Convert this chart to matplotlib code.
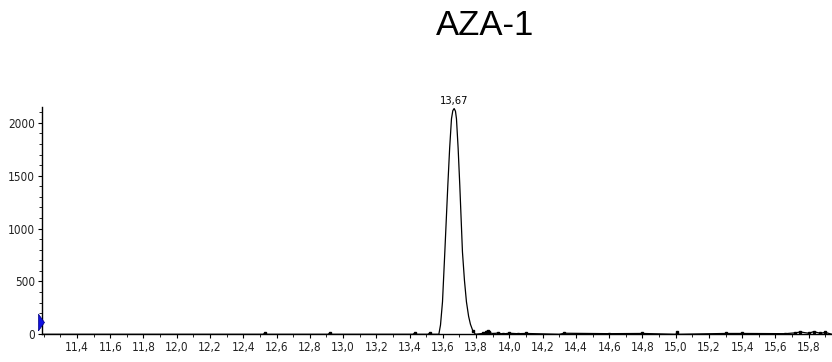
import matplotlib.pyplot as plt
import numpy as np
from matplotlib.font_manager import FontProperties
from matplotlib.ticker import MultipleLocator

# retention time (min) and intensity
rt = [11.19, 12.52, 12.53, 12.54, 12.91, 12.92, 12.93, 13.42, 13.43, 13.44,
      13.51, 13.52, 13.53, 13.576, 13.586, 13.598, 13.612, 13.630, 13.641,
      13.652, 13.660, 13.668, 13.676, 13.682, 13.692, 13.702, 13.718, 13.730,
      13.742, 13.755, 13.766, 13.780, 13.796, 13.84, 13.86, 13.87, 13.88,
      13.90, 13.93, 13.96, 14.00, 14.05, 14.10, 14.30, 14.33, 14.60, 14.80,
      15.00, 15.01, 15.02, 15.30, 15.40, 15.66, 15.72, 15.75, 15.80, 15.83,
      15.87, 15.90, 15.94]
intensity = [0, 0, 12, 0, 0, 12, 0, 0, 10, 0,
             0, 10, 0, 0, 88, 307, 779, 1408, 1760,
             2038, 2115, 2135, 2110, 2038, 1760, 1408, 779, 510,
             307, 170, 95, 35, 0, 8, 20, 35, 18,
             6, 12, 4, 10, 6, 8, 0, 10, 6, 8,
             0, 18, 0, 8, 8, 6, 14, 22, 10, 25,
             10, 18, 0]

x_ticks = [11.4, 11.6, 11.8, 12.0, 12.2, 12.4, 12.6, 12.8, 13.0, 13.2, 13.4,
           13.6, 13.8, 14.0, 14.2, 14.4, 14.6, 14.8, 15.0, 15.2, 15.4, 15.6, 15.8]
y_ticks = [0, 500, 1000, 1500, 2000]
peak_rt = 13.67
title = "AZA-1"

fp = FontProperties(family="DejaVu Sans", stretch="condensed", size=8.5)

fig = plt.figure(figsize=(8.32, 3.62), dpi=100)
ax = fig.add_axes([0.0505, 0.0765, 0.9495, 0.628])

ax.plot(rt, intensity, color="black", lw=0.9)
noise = [(x, y) for x, y in zip(rt, intensity) if 0 < y < 40]
ax.plot([p[0] for p in noise], [p[1] for p in noise], "s", color="black",
        ms=1.6, lw=0)

ax.annotate(f"{peak_rt:.2f}".replace(".", ","), xy=(peak_rt, max(intensity)),
            xytext=(0, 2), textcoords="offset points", ha="center",
            va="bottom", fontproperties=FontProperties(family="DejaVu Sans",
            stretch="condensed", size=8), annotation_clip=False)

# blue marker on the y axis (narrow triangle)
tri = [(-0.18, -0.5), (0.18, 0.0), (-0.18, 0.5), (-0.18, -0.5)]
ax.plot([11.185], [115], marker=tri, color="#1010e0", ms=12, clip_on=False,
        zorder=5, markeredgecolor="#000080", markeredgewidth=0.5)

ax.set_xlim(11.19, 15.94)
ax.set_ylim(0, 2150)
ax.set_xticks(x_ticks, [f"{t:.1f}".replace(".", ",") for t in x_ticks],
              fontproperties=fp, color="#222222")
ax.set_yticks(y_ticks, [str(t) for t in y_ticks], fontproperties=fp,
              color="#222222")
ax.xaxis.set_minor_locator(MultipleLocator(0.1))
ax.yaxis.set_minor_locator(MultipleLocator(100))

for s in ["top", "right"]:
    ax.spines[s].set_visible(False)
ax.spines["left"].set_linewidth(1.0)
ax.spines["bottom"].set_linewidth(1.0)
ax.tick_params(axis="both", which="major", length=3, width=0.8, pad=2)
ax.tick_params(axis="both", which="minor", length=2, width=0.6)

fig.text(0.583, 0.929, title, ha="center", va="center", fontsize=25,
         family="Liberation Sans")

fig.savefig("out.png", dpi=100)
